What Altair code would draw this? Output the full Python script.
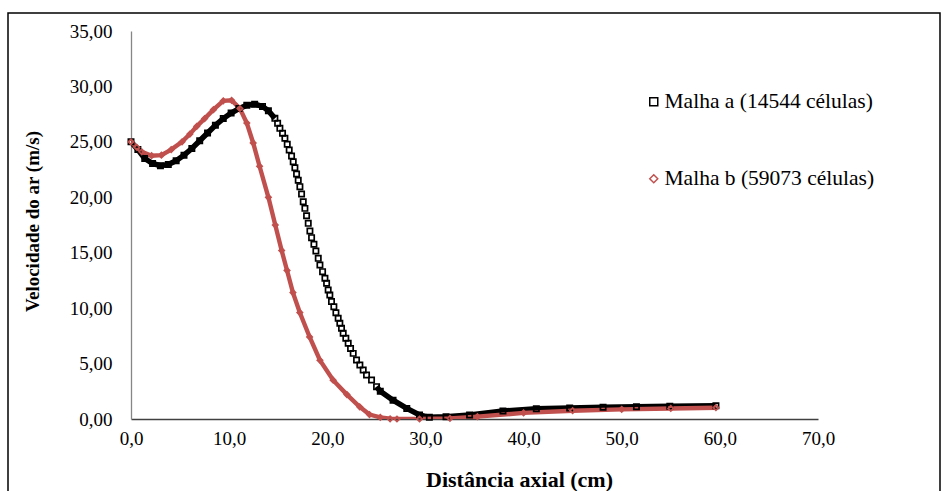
import altair as alt
import pandas as pd

# ---- data ----
series_names = ["Malha a (14544 células)", "Malha b (59073 células)"]

x_a = [0.0, 0.7, 1.4, 2.2, 3.0, 3.8, 4.6, 5.4, 6.2, 7.0, 7.8, 8.6, 9.4, 10.2, 11.0,
       11.8, 12.6, 13.4, 14.0,
       14.66, 14.94, 15.17, 15.44, 15.68, 15.92, 16.12, 16.36, 16.53, 16.70, 16.87,
       17.04, 17.21, 17.38, 17.55, 17.72, 17.89, 18.06, 18.23, 18.40, 18.64, 18.84,
       19.08, 19.25, 19.52, 19.76, 19.93, 20.09, 20.26, 20.43, 20.67, 20.88, 21.11,
       21.28, 21.45, 21.62, 21.89, 22.13, 22.37, 22.64, 22.98, 23.32, 23.66, 24.0,
       24.51, 25.02,
       25.4, 26.7, 28.1, 29.4, 30.4, 32.1, 34.5, 37.9, 41.3, 44.7, 48.1,
       51.5, 54.9, 59.6]
y_a = [25.0, 24.3, 23.5, 23.05, 22.85, 22.95, 23.3, 23.8, 24.4, 25.1, 25.8, 26.5,
       27.1, 27.6, 28.0, 28.3, 28.4, 28.2, 27.8,
       27.12, 26.67, 26.22, 25.77, 25.32, 24.78, 24.26, 23.72, 23.21, 22.67, 22.10,
       21.53, 20.96, 20.30, 19.60, 19.00, 18.34, 17.65, 16.96, 16.36, 15.76, 15.15,
       14.49, 13.89, 13.29, 12.69, 12.24, 11.64, 11.19, 10.59, 10.13, 9.59, 9.08,
       8.63, 8.18, 7.73, 7.28, 6.83, 6.37, 5.92, 5.32, 4.87, 4.42, 3.97,
       3.52, 2.92,
       2.5, 1.7, 0.95, 0.36, 0.15, 0.2, 0.36, 0.72, 0.92, 1.0, 1.06,
       1.1, 1.15, 1.2]

x_b = [0.0, 0.6, 1.1, 2.1, 3.1, 4.1, 5.2, 6.0, 6.7, 7.5, 8.4, 9.4, 10.25, 11.1,
       11.8, 12.45, 13.1, 14.0, 14.7, 15.35, 15.9, 16.5, 17.2, 18.2, 19.25, 20.6,
       22.0, 23.3, 24.3, 25.4, 26.4, 27.1, 29.4, 32.5, 35.3, 40.0, 45.0, 50.0, 55.0,
       59.6]
y_b = [25.0, 24.5, 24.1, 23.75, 23.8, 24.3, 25.0, 25.7, 26.4, 27.1, 27.9, 28.7,
       28.75, 28.0, 26.7, 24.9, 22.8, 20.0, 17.5, 15.2, 13.4, 11.4, 9.6, 7.4, 5.3,
       3.5, 2.2, 1.1, 0.4, 0.15, 0.02, 0.0, 0.0, 0.06, 0.21, 0.55, 0.75, 0.87, 0.95,
       1.02]

x_ticks = [0, 10, 20, 30, 40, 50, 60, 70]
y_ticks = [0, 5, 10, 15, 20, 25, 30, 35]

colors = ["#000000", "#C0504D"]
shapes = ["square", "diamond"]

df = pd.concat([
    pd.DataFrame({"x": x_a, "y": y_a, "serie": series_names[0]}),
    pd.DataFrame({"x": x_b, "y": y_b, "serie": series_names[1]}),
], ignore_index=True)

FONT = "Liberation Serif"

xenc = alt.X("x:Q", scale=alt.Scale(domain=[0, 70], nice=False),
             axis=alt.Axis(values=x_ticks, title="Distância axial (cm)",
                           labelExpr="replace(format(datum.value, '.1f'), '.', ',')",
                           grid=False, ticks=False, domainColor="#404040", domainWidth=1.3,
                           labelFont=FONT, labelFontSize=19, labelColor="#000",
                           labelPadding=10, labelFlush=False, labelOverlap=False,
                           titleFont=FONT, titleFontSize=22, titleFontWeight="bold",
                           titleColor="#000", titleX=388, titleY=60,
                           titleBaseline="middle", titleAlign="center"))
yenc = alt.Y("y:Q", scale=alt.Scale(domain=[0, 35], nice=False),
             axis=alt.Axis(values=y_ticks, title="Velocidade do ar (m/s)",
                           labelExpr="replace(format(datum.value, '.2f'), '.', ',')",
                           grid=False, ticks=False, domainColor="#868686", domainWidth=1.3,
                           labelFont=FONT, labelFontSize=19, labelColor="#000",
                           labelPadding=19, labelFlush=False, labelOverlap=False,
                           titleFont=FONT, titleFontSize=19, titleFontWeight="bold",
                           titleColor="#000", titleX=-99, titleY=190,
                           titleBaseline="middle", titleAngle=-90, titleAlign="center"))

base = alt.Chart(df)

line_a1 = base.mark_line(color="#000", strokeWidth=5.5, clip=True).encode(
    x=xenc, y=yenc, order="x:Q"
).transform_filter((alt.datum.serie == series_names[0]) & (alt.datum.x <= 14.7))

line_a2 = base.mark_line(color="#000", strokeWidth=5.5, clip=True).encode(
    x="x:Q", y="y:Q", order="x:Q"
).transform_filter((alt.datum.serie == series_names[0]) & (alt.datum.x >= 24.9))

line_b = base.mark_line(color=colors[1], strokeWidth=4.4, clip=True).encode(
    x="x:Q", y="y:Q", order="x:Q"
).transform_filter(alt.datum.serie == series_names[1])

points = base.mark_point(filled=False, strokeWidth=1.7, opacity=1, size=28).encode(
    x="x:Q", y="y:Q",
    color=alt.Color("serie:N", scale=alt.Scale(domain=series_names, range=colors),
                    legend=alt.Legend(title=None, orient="none", legendX=507, legendY=60,
                                      rowPadding=54, labelFont=FONT, labelFontSize=21.5,
                                      labelColor="#000", symbolSize=64, labelLimit=0,
                                      symbolStrokeWidth=1.5, labelOffset=0,
                                      symbolOffset=5, padding=0)),
    shape=alt.Shape("serie:N", scale=alt.Scale(domain=series_names, range=shapes)),
)

frame = alt.Chart(pd.DataFrame({"k": [0]})).mark_rect(
    fillOpacity=0, stroke="#000", strokeWidth=1.5
).encode(x=alt.value(-123), x2=alt.value(809), y=alt.value(-18), y2=alt.value(480))

chart = alt.layer(frame, line_a1, line_a2, line_b, points).properties(
    width=687, height=388,
    background="white",
    autosize=alt.AutoSizeParams(type="none"),
    padding={"left": 131, "top": 31, "right": 128, "bottom": 72},
).configure_view(stroke=None)

chart.save("out.html", embed_options={"renderer": "svg", "actions": False})
